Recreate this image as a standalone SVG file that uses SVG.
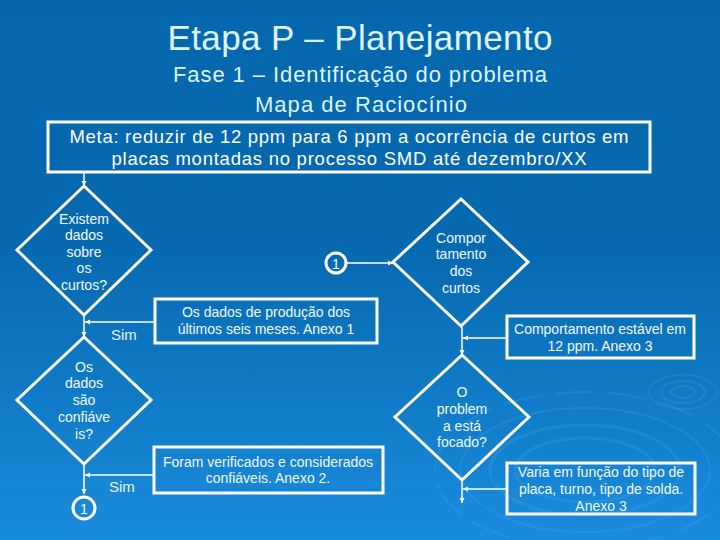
<svg xmlns="http://www.w3.org/2000/svg" width="720" height="540" viewBox="0 0 720 540">
  <defs>
    <linearGradient id="bg" x1="0" y1="0" x2="0" y2="1">
      <stop offset="0" stop-color="#0567AD"/>
      <stop offset="0.45" stop-color="#0669B0"/>
      <stop offset="1" stop-color="#1A8CDC"/>
    </linearGradient>
    <marker id="arr" markerWidth="6" markerHeight="6" refX="5" refY="3" orient="auto" markerUnits="userSpaceOnUse">
      <path d="M0,0.5 L5,3 L0,5.5 Z" fill="#FFFFFF"/>
    </marker>
    <style>
      .title { font-family: "Liberation Sans", Arial, sans-serif; fill: #DDF4FF; text-anchor: middle; }
      .meta { font-family: "Liberation Sans", Arial, sans-serif; fill: #FFFFFF; text-anchor: middle; font-size: 18.5px; }
      .t { font-family: "Liberation Sans", Arial, sans-serif; fill: #F2F9FF; text-anchor: middle; font-size: 14px; }
      .sim { font-family: "Liberation Sans", Arial, sans-serif; fill: #E8F4FF; font-size: 15px; }
      .shape { fill: none; stroke: #FFFFFF; stroke-width: 3; stroke-linejoin: miter; }
      .conn line { stroke: #FFFFFF; stroke-width: 1.5; marker-end: url(#arr); }
      .ripple { fill: none; stroke: #4FB0F0; stroke-opacity: 0.2; }
    </style>
  </defs>

  <rect x="0" y="0" width="720" height="540" fill="url(#bg)"/>

  <g id="ripples">
    <ellipse class="ripple" cx="683" cy="392" rx="12" ry="6" stroke-width="2"/>
    <ellipse class="ripple" cx="683" cy="392" rx="22" ry="11" stroke-width="2"/>
    <ellipse class="ripple" cx="683" cy="392" rx="34" ry="17" stroke-width="1.5"/>
    <ellipse class="ripple" cx="585" cy="470" rx="70" ry="32" stroke-width="3"/>
    <ellipse class="ripple" cx="585" cy="470" rx="95" ry="45" stroke-width="3"/>
    <ellipse class="ripple" cx="585" cy="470" rx="125" ry="62" stroke-width="2"/>
    <ellipse class="ripple" cx="585" cy="470" rx="150" ry="78" stroke-width="2" stroke-dasharray="40 12"/>
  </g>

  <g id="title">
    <text class="title" x="360" y="50" font-size="35" textLength="385" lengthAdjust="spacing">Etapa P – Planejamento</text>
    <text class="title" x="360" y="82" font-size="22" textLength="374" lengthAdjust="spacing">Fase 1 – Identificação do problema</text>
    <text class="title" x="361" y="112" font-size="22" textLength="212" lengthAdjust="spacing">Mapa de Raciocínio</text>
  </g>

  <g id="meta">
    <rect class="shape" x="48" y="122" width="602" height="50"/>
    <text class="meta" x="349" y="143" textLength="559" lengthAdjust="spacing">Meta: reduzir de 12 ppm para 6 ppm a ocorrência de curtos em</text>
    <text class="meta" x="349" y="165" textLength="475" lengthAdjust="spacing">placas montadas no processo SMD até dezembro/XX</text>
  </g>

  <g class="conn" id="connectors">
    <line x1="84" y1="172" x2="84" y2="186"/>
    <line x1="84" y1="316" x2="84" y2="337"/>
    <line x1="155" y1="322" x2="85" y2="322"/>
    <line x1="346" y1="263" x2="393" y2="263"/>
    <line x1="462" y1="327" x2="462" y2="355"/>
    <line x1="507" y1="338" x2="463" y2="338"/>
    <line x1="84" y1="464" x2="84" y2="494"/>
    <line x1="154" y1="475" x2="85" y2="475"/>
    <line x1="462" y1="480" x2="462" y2="503"/>
    <line x1="507" y1="489" x2="463" y2="489"/>
  </g>

  <g id="d1">
    <polygon class="shape" points="84,186 151,250 84,315 17,250"/>
    <text class="t" x="84" y="224">Existem</text>
    <text class="t" x="84" y="240">dados</text>
    <text class="t" x="84" y="257">sobre</text>
    <text class="t" x="84" y="273">os</text>
    <text class="t" x="84" y="290">curtos?</text>
  </g>

  <g id="sim1">
    <text class="sim" x="111" y="340">Sim</text>
  </g>

  <g id="box1">
    <rect class="shape" x="155" y="299" width="222" height="44"/>
    <text class="t" x="266" y="317">Os dados de produção dos</text>
    <text class="t" x="266" y="334">últimos seis meses. Anexo 1</text>
  </g>

  <g id="c1top">
    <circle class="shape" cx="336" cy="263" r="10" stroke-width="2.5"/>
    <text class="t" x="336" y="269" font-size="16">1</text>
  </g>

  <g id="d3">
    <polygon class="shape" points="461,199 528,262 461,326 393,262"/>
    <text class="t" x="461" y="243">Compor</text>
    <text class="t" x="461" y="259">tamento</text>
    <text class="t" x="461" y="276">dos</text>
    <text class="t" x="461" y="293">curtos</text>
  </g>

  <g id="box3">
    <rect class="shape" x="507" y="316" width="187" height="42"/>
    <text class="t" x="600" y="334">Comportamento estável em</text>
    <text class="t" x="600" y="351">12 ppm. Anexo 3</text>
  </g>

  <g id="d2">
    <polygon class="shape" points="84,337 151,400 84,464 17,400"/>
    <text class="t" x="84" y="372">Os</text>
    <text class="t" x="84" y="388">dados</text>
    <text class="t" x="84" y="405">são</text>
    <text class="t" x="84" y="422">confiáve</text>
    <text class="t" x="84" y="439">is?</text>
  </g>

  <g id="sim2">
    <text class="sim" x="109" y="492">Sim</text>
  </g>

  <g id="box2">
    <rect class="shape" x="154" y="447" width="229" height="46"/>
    <text class="t" x="268" y="467">Foram verificados e considerados</text>
    <text class="t" x="268" y="483">confiáveis. Anexo 2.</text>
  </g>

  <g id="c1bottom">
    <circle class="shape" cx="84" cy="508" r="11" stroke-width="2.5"/>
    <text class="t" x="84" y="514" font-size="17">1</text>
  </g>

  <g id="d4">
    <polygon class="shape" points="462,355 529,417 462,480 395,417"/>
    <text class="t" x="462" y="397">O</text>
    <text class="t" x="462" y="414">problem</text>
    <text class="t" x="462" y="431">a está</text>
    <text class="t" x="462" y="447">focado?</text>
  </g>

  <g id="box4">
    <rect class="shape" x="507" y="463" width="188" height="51"/>
    <text class="t" x="601" y="477">Varia em função do tipo de</text>
    <text class="t" x="601" y="494">placa, turno, tipo de solda.</text>
    <text class="t" x="601" y="511">Anexo 3</text>
  </g>
</svg>
